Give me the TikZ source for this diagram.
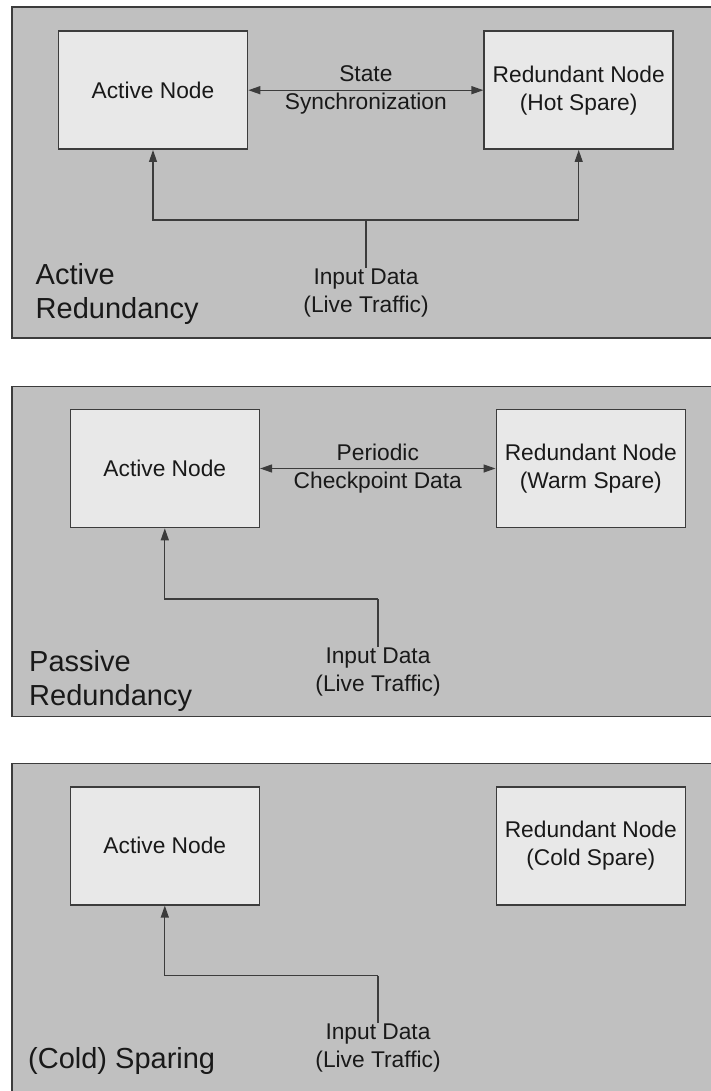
\documentclass[tikz,border=0pt]{standalone}
\usepackage{fontspec}
\setmainfont{Liberation Sans}
\usetikzlibrary{arrows.meta}
\definecolor{trait}{RGB}{60,60,60}
\definecolor{fond}{RGB}{192,192,192}
\definecolor{clair}{RGB}{232,232,232}
\newcommand{\boxw}{189pt}
\newcommand{\boxh}{118pt}
\tikzstyle{panel}=[draw=trait, fill=fond, line width=1.6pt]
\tikzstyle{unit}=[rectangle, draw=trait, fill=clair, line width=1.6pt, minimum width=\boxw, minimum height=\boxh, inner sep=0pt, align=center, text=black!90, font=\fontsize{22.75}{28}\selectfont]
\tikzstyle{lbl}=[inner sep=1pt, align=center, text=black!90, font=\fontsize{22.75}{28}\selectfont]
\tikzstyle{title}=[inner sep=0pt, anchor=west, align=left, text=black!90, font=\fontsize{29}{34.5}\selectfont]
\tikzstyle{link}=[draw=trait, line width=1.3pt]
\newcommand{\feed}[2]{ \draw[link,->] (#1) -| (#2.south); }

\begin{document}
\begin{tikzpicture}[x=1pt, y=-1pt, >={Triangle[length=12pt,width=8pt]}]

 \useasboundingbox (0,0) rectangle (710,1091);

 % active redundancy
 \draw[panel] (11.7,7.3) rectangle (714,338.2);
 \node[unit] (act1) at (153,90.2) {Active Node};
 \node[unit] (red1) at (578.7,90.2) {Redundant Node\\(Hot Spare)};
 \draw[link,<->] (act1) -- node[lbl] {State\\Synchronization} (red1);
 \node[lbl, anchor=north] (in1) at (366,267.5) {Input Data\\(Live Traffic)};
 \coordinate (j1) at (366,220);
 \draw[link] (in1.north) -- (j1);
 \feed{j1}{act1}
 \feed{j1}{red1}
 \node[title] (t1) at (35.5,293.8) {Active\\Redundancy};

 % passive redundancy
 \draw[panel] (11.7,386.3) rectangle (714,716.3);
 \node[unit] (act2) at (164.8,468.5) {Active Node};
 \node[unit] (red2) at (590.8,468.5) {Redundant Node\\(Warm Spare)};
 \draw[link,<->] (act2) -- node[lbl] {Periodic\\Checkpoint Data} (red2);
 \node[lbl, anchor=north] (in2) at (378,646.5) {Input Data\\(Live Traffic)};
 \coordinate (j2) at (378,599);
 \draw[link] (in2.north) -- (j2);
 \feed{j2}{act2}
 \node[title] (t2) at (29,680.9) {Passive\\Redundancy};

 % cold sparing
 \draw[panel] (11.7,763.5) rectangle (714,1100);
 \node[unit] (act3) at (164.8,845.8) {Active Node};
 \node[unit] (red3) at (590.8,845.8) {Redundant Node\\(Cold Spare)};
 \node[lbl, anchor=north] (in3) at (378,1023) {Input Data\\(Live Traffic)};
 \coordinate (j3) at (378,975.7);
 \draw[link] (in3.north) -- (j3);
 \feed{j3}{act3}
 \node[title, anchor=base west] (t3) at (28,1068.3) {(Cold) Sparing};

\end{tikzpicture}
\end{document}
